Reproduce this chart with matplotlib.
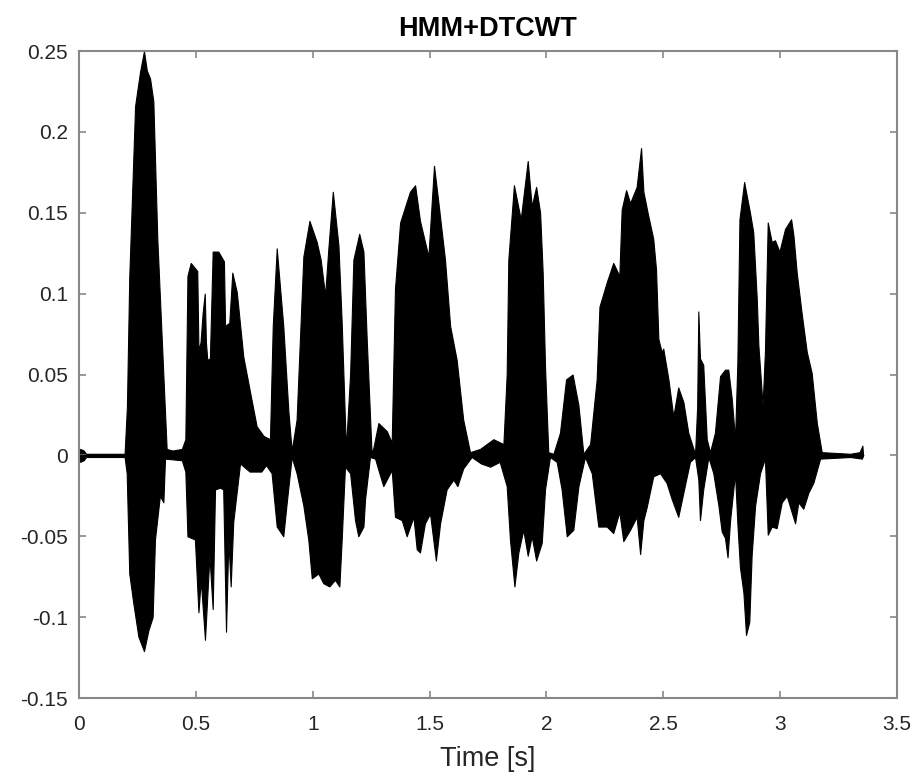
import matplotlib
matplotlib.use("Agg")
import matplotlib.pyplot as plt

plt.rcParams['font.family'] = ['Liberation Sans', 'DejaVu Sans']

# upper envelope of the signal (time in s, amplitude)
t_upper = [0.000, 0.005, 0.020, 0.030, 0.195, 0.205, 0.215, 0.240, 0.261, 0.278, 0.290, 0.304, 0.318, 0.335, 0.354, 0.375,
           0.400, 0.440, 0.455, 0.464, 0.478, 0.506, 0.511, 0.520, 0.529, 0.538, 0.543, 0.549, 0.560, 0.572, 0.596, 0.620,
           0.625, 0.643, 0.656, 0.675, 0.703, 0.732, 0.760, 0.790, 0.817, 0.829, 0.846, 0.874, 0.896, 0.910, 0.931, 0.960,
           0.986, 1.017, 1.034, 1.053, 1.067, 1.086, 1.110, 1.124, 1.142, 1.160, 1.174, 1.199, 1.217, 1.231, 1.252, 1.260,
           1.281, 1.317, 1.338, 1.352, 1.374, 1.416, 1.438, 1.459, 1.495, 1.519, 1.538, 1.566, 1.588, 1.616, 1.644, 1.673,
           1.716, 1.773, 1.816, 1.830, 1.837, 1.861, 1.890, 1.920, 1.937, 1.956, 1.973, 1.984, 1.994, 2.008, 2.030, 2.058,
           2.084, 2.112, 2.137, 2.158, 2.187, 2.215, 2.227, 2.258, 2.286, 2.312, 2.322, 2.341, 2.358, 2.386, 2.405, 2.415,
           2.433, 2.457, 2.469, 2.479, 2.493, 2.500, 2.522, 2.543, 2.564, 2.586, 2.607, 2.636, 2.645, 2.650, 2.657, 2.671,
           2.686, 2.700, 2.721, 2.743, 2.764, 2.778, 2.793, 2.807, 2.817, 2.826, 2.846, 2.871, 2.885, 2.900, 2.907, 2.925,
           2.935, 2.947, 2.964, 2.978, 2.997, 3.021, 3.047, 3.057, 3.071, 3.092, 3.114, 3.135, 3.157, 3.178, 3.300, 3.340,
           3.352, 3.355]
v_upper = [0.000, 0.004, 0.003, 0.001, 0.001, 0.030, 0.110, 0.216, 0.237, 0.250, 0.238, 0.233, 0.219, 0.134, 0.072, 0.004,
           0.003, 0.004, 0.010, 0.111, 0.119, 0.114, 0.065, 0.070, 0.088, 0.100, 0.070, 0.059, 0.060, 0.126, 0.126, 0.120,
           0.080, 0.082, 0.113, 0.101, 0.061, 0.039, 0.018, 0.012, 0.010, 0.080, 0.128, 0.080, 0.027, 0.003, 0.022, 0.123,
           0.145, 0.132, 0.121, 0.099, 0.128, 0.163, 0.130, 0.082, 0.004, 0.050, 0.121, 0.137, 0.126, 0.072, 0.001, 0.005,
           0.020, 0.015, 0.008, 0.103, 0.144, 0.163, 0.167, 0.145, 0.123, 0.179, 0.156, 0.121, 0.080, 0.059, 0.022, 0.002,
           0.004, 0.010, 0.007, 0.050, 0.121, 0.167, 0.146, 0.182, 0.154, 0.166, 0.150, 0.113, 0.055, 0.002, 0.001, 0.014,
           0.047, 0.050, 0.031, 0.001, 0.007, 0.047, 0.092, 0.107, 0.119, 0.111, 0.152, 0.164, 0.156, 0.166, 0.190, 0.163,
           0.150, 0.134, 0.115, 0.072, 0.064, 0.066, 0.047, 0.024, 0.042, 0.033, 0.014, 0.001, 0.030, 0.089, 0.060, 0.056,
           0.010, 0.002, 0.014, 0.049, 0.053, 0.053, 0.035, 0.010, 0.057, 0.146, 0.169, 0.150, 0.138, 0.097, 0.068, 0.031,
           0.064, 0.144, 0.132, 0.133, 0.126, 0.140, 0.146, 0.136, 0.113, 0.088, 0.064, 0.051, 0.020, 0.002, 0.001, 0.002,
           0.006, 0.000]

# lower envelope of the signal
t_lower = [0.000, 0.005, 0.020, 0.030, 0.195, 0.204, 0.215, 0.232, 0.254, 0.278, 0.297, 0.315, 0.325, 0.346, 0.361, 0.368,
           0.440, 0.455, 0.464, 0.496, 0.511, 0.521, 0.539, 0.558, 0.572, 0.582, 0.603, 0.617, 0.629, 0.639, 0.649, 0.660,
           0.689, 0.730, 0.780, 0.800, 0.824, 0.846, 0.874, 0.889, 0.910, 0.931, 0.960, 0.981, 0.996, 1.024, 1.045, 1.071,
           1.095, 1.114, 1.124, 1.138, 1.160, 1.181, 1.195, 1.217, 1.224, 1.245, 1.267, 1.281, 1.302, 1.338, 1.352, 1.381,
           1.402, 1.431, 1.445, 1.459, 1.480, 1.502, 1.527, 1.545, 1.573, 1.602, 1.619, 1.644, 1.680, 1.720, 1.759, 1.800,
           1.830, 1.844, 1.863, 1.880, 1.901, 1.920, 1.937, 1.956, 1.980, 1.994, 2.015, 2.044, 2.065, 2.087, 2.115, 2.137,
           2.165, 2.194, 2.222, 2.258, 2.286, 2.312, 2.329, 2.358, 2.386, 2.401, 2.415, 2.429, 2.457, 2.486, 2.514, 2.536,
           2.564, 2.586, 2.614, 2.636, 2.650, 2.657, 2.671, 2.693, 2.714, 2.736, 2.750, 2.764, 2.775, 2.786, 2.807, 2.817,
           2.828, 2.843, 2.854, 2.868, 2.878, 2.893, 2.914, 2.935, 2.947, 2.964, 2.985, 3.007, 3.028, 3.064, 3.078, 3.099,
           3.121, 3.142, 3.171, 3.300, 3.350, 3.355]
v_lower = [0.000, -0.004, -0.003, -0.001, -0.001, -0.011, -0.073, -0.091, -0.112, -0.121, -0.108, -0.100, -0.052, -0.025,
           -0.029, -0.002, -0.003, -0.010, -0.050, -0.052, -0.097, -0.077, -0.114, -0.062, -0.095, -0.021, -0.020, -0.021,
           -0.109, -0.052, -0.081, -0.041, -0.005, -0.010, -0.010, -0.006, -0.011, -0.044, -0.050, -0.029, -0.001, -0.011,
           -0.031, -0.052, -0.076, -0.073, -0.079, -0.081, -0.077, -0.081, -0.052, -0.007, -0.011, -0.040, -0.050, -0.044,
           -0.027, -0.001, -0.002, -0.009, -0.019, -0.009, -0.038, -0.040, -0.050, -0.038, -0.058, -0.060, -0.042, -0.036,
           -0.065, -0.042, -0.021, -0.015, -0.019, -0.008, -0.001, -0.005, -0.007, -0.004, -0.019, -0.052, -0.081, -0.060,
           -0.046, -0.062, -0.050, -0.065, -0.054, -0.021, -0.001, -0.004, -0.021, -0.050, -0.046, -0.019, -0.001, -0.011,
           -0.044, -0.044, -0.048, -0.035, -0.053, -0.046, -0.038, -0.061, -0.040, -0.032, -0.013, -0.011, -0.017, -0.027,
           -0.038, -0.023, -0.004, -0.001, -0.015, -0.040, -0.021, -0.001, -0.011, -0.031, -0.047, -0.051, -0.063, -0.040,
           -0.011, -0.042, -0.069, -0.085, -0.111, -0.103, -0.062, -0.031, -0.011, -0.002, -0.049, -0.044, -0.045, -0.029,
           -0.025, -0.042, -0.029, -0.033, -0.023, -0.017, -0.002, -0.001, -0.002, 0.000]

x_ticks = [0, 0.5, 1, 1.5, 2, 2.5, 3, 3.5]
x_labels = ['0', '0.5', '1', '1.5', '2', '2.5', '3', '3.5']
y_ticks = [-0.15, -0.1, -0.05, 0, 0.05, 0.1, 0.15, 0.2, 0.25]
y_labels = ['-0.15', '-0.1', '-0.05', '0', '0.05', '0.1', '0.15', '0.2', '0.25']

fig = plt.figure(figsize=(9.23, 7.80), dpi=100)
ax = fig.add_axes([0.0856, 0.1051, 0.8862, 0.8295])

# waveform drawn as its envelope
ax.fill_between(t_upper, 0, v_upper, color='black', linewidth=0.8, edgecolor='black')
ax.fill_between(t_lower, v_lower, 0, color='black', linewidth=0.8, edgecolor='black')
ax.plot([t_upper[0], t_upper[-1]], [0, 0], color='black', linewidth=1.0)

ax.set_xlim(0, 3.5)
ax.set_ylim(-0.15, 0.25)
ax.set_xticks(x_ticks)
ax.set_xticklabels(x_labels)
ax.set_yticks(y_ticks)
ax.set_yticklabels(y_labels)

ax.tick_params(direction='in', length=5, width=1.2, colors='#888888', labelcolor='#262626',
               labelsize=15, top=True, right=True)
ax.tick_params(axis='x', pad=12)
ax.tick_params(axis='y', pad=8)
for s in ax.spines.values():
    s.set_color('#888888')
    s.set_linewidth(1.5)

ax.set_xlabel('Time [s]', fontsize=19.5, color='#262626', labelpad=9)
ax.set_title('HMM+DTCWT', fontsize=19.5, fontweight='bold', pad=11)

fig.savefig('out.png', dpi=100)
